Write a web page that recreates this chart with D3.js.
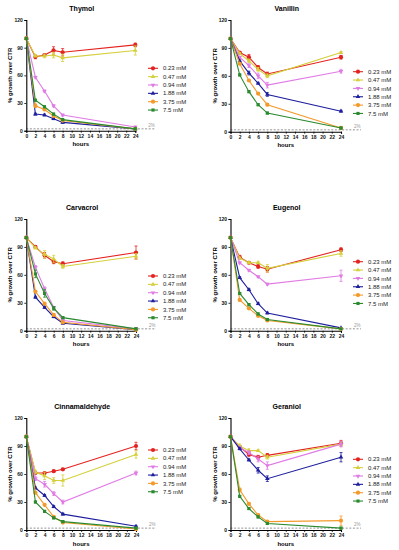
<!DOCTYPE html>
<html><head><meta charset="utf-8">
<script src="https://cdn.jsdelivr.net/npm/d3@7"></script>
<style>body{margin:0;background:#fff}svg{display:block}text{font-family:"Liberation Sans",Arial,sans-serif}</style>
</head><body><svg id="c" width="399" height="550"></svg>
<script>
const hours = [0, 2, 4, 6, 8, 24];
const concentrations = ["0.23 mM", "0.47 mM", "0.94 mM", "1.88 mM", "3.75 mM", "7.5 mM"];
const xTicks = [0, 2, 4, 6, 8, 10, 12, 14, 16, 18, 20, 22, 24];
const yTicks = [0, 30, 60, 90, 120];
const thresholdValue = 2;
const thresholdLabel = "2%";
const yLabel = "% growth over CTR";
const xLabel = "hours";

const thymolValues = [
  [100, 80, 82, 87, 85, 93],
  [100, 81, 81, 82, 79, 87],
  [100, 58, 43, 27, 17, 4],
  [100, 18, 17, 13, 9, 2],
  [100, 27, 23, 16, 11, 2],
  [100, 33, 26, 18, 12, 2]
];
const thymolErrors = [
  [0, 2, 1, 4, 4, 2], [0, 1, 2, 3, 4, 5], [0, 1, 1, 1, 1, 1],
  [0, 1, 1, 1, 1, 0], [0, 2, 1, 1, 1, 0], [0, 1, 1, 1, 1, 1]
];
const vanillinValues = [
  [100, 85, 80, 69, 62, 80],
  [100, 84, 76, 67, 60, 85],
  [100, 80, 71, 60, 50, 65],
  [100, 76, 63, 52, 40, 22],
  [100, 73, 55, 41, 29, 4],
  [100, 61, 43, 29, 20, 4]
];
const vanillinErrors = [
  [0, 1, 3, 2, 2, 2], [0, 1, 2, 2, 2, 1], [0, 1, 2, 3, 3, 2],
  [0, 1, 2, 1, 2, 1], [0, 1, 1, 1, 1, 1], [0, 1, 1, 1, 1, 1]
];
const carvacrolValues = [
  [100, 90, 81, 74, 72, 84],
  [100, 89, 82, 77, 69, 80],
  [100, 68, 45, 25, 11, 2],
  [100, 36, 25, 15, 8, 1],
  [100, 42, 29, 17, 9, 1],
  [100, 61, 40, 24, 14, 2]
];
const carvacrolErrors = [
  [0, 1, 3, 2, 2, 7], [0, 1, 4, 4, 2, 3], [0, 2, 2, 1, 1, 1],
  [0, 1, 1, 1, 1, 0], [0, 1, 1, 1, 1, 0], [0, 4, 4, 2, 1, 1]
];
const eugenolValues = [
  [100, 79, 73, 69, 66, 87],
  [100, 78, 73, 73, 67, 83],
  [100, 73, 65, 58, 50, 59],
  [100, 57, 44, 29, 19, 3],
  [100, 33, 24, 16, 11, 2],
  [100, 40, 28, 18, 12, 2]
];
const eugenolErrors = [
  [0, 2, 1, 2, 3, 2], [0, 1, 1, 1, 4, 3], [0, 1, 1, 1, 1, 6],
  [0, 1, 1, 1, 1, 0], [0, 1, 1, 1, 1, 0], [0, 1, 1, 1, 1, 0]
];
const cinnamaldehydeValues = [
  [100, 61, 61, 63, 65, 90],
  [100, 62, 58, 53, 53, 81],
  [100, 55, 49, 39, 30, 61],
  [100, 45, 37, 25, 17, 4],
  [100, 40, 27, 14, 8, 1],
  [100, 30, 20, 13, 9, 2]
];
const cinnamaldehydeErrors = [
  [0, 1, 1, 1, 1, 4], [0, 2, 4, 3, 6, 4], [0, 2, 3, 2, 2, 2],
  [0, 1, 1, 1, 1, 1], [0, 1, 1, 1, 1, 1], [0, 1, 1, 1, 1, 1]
];
const geraniolValues = [
  [100, 89, 81, 78, 80, 93],
  [100, 90, 85, 85, 78, 92],
  [100, 88, 83, 76, 69, 92],
  [100, 87, 75, 64, 55, 78],
  [100, 43, 28, 16, 9, 10],
  [100, 36, 23, 14, 7, 2]
];
const geraniolErrors = [
  [0, 1, 2, 2, 2, 3], [0, 2, 2, 1, 2, 2], [0, 1, 2, 3, 4, 3],
  [0, 1, 1, 3, 3, 5], [0, 2, 1, 1, 1, 5], [0, 1, 1, 1, 1, 1]
];

// styles
const colors = ["#e3231f", "#d5cf3a", "#e07be4", "#1e1e9e", "#f39a2a", "#2a8a2e"];
const symbols = [d3.symbolCircle, d3.symbolTriangle, d3.symbolTriangle, d3.symbolTriangle, d3.symbolCircle, d3.symbolSquare];
const symRot = [0, 0, 180, 0, 0, 0];
const symSize = [14, 9, 9, 9, 14, 10];

// layout
const panels = [
  {title: "Thymol", values: thymolValues, errors: thymolErrors, x0: 26.3, x1: 135.3, yT: 20, yB: 130.7, lx: 148, ly: 68.3},
  {title: "Vanillin", values: vanillinValues, errors: vanillinErrors, x0: 230.5, x1: 341, yT: 20, yB: 131.7, lx: 353, ly: 71.7},
  {title: "Carvacrol", values: carvacrolValues, errors: carvacrolErrors, x0: 26.3, x1: 136, yT: 219, yB: 330.7, lx: 148, ly: 276},
  {title: "Eugenol", values: eugenolValues, errors: eugenolErrors, x0: 230.5, x1: 341, yT: 219, yB: 330.7, lx: 353, ly: 261.7},
  {title: "Cinnamaldehyde", values: cinnamaldehydeValues, errors: cinnamaldehydeErrors, x0: 26.3, x1: 136, yT: 418, yB: 530, lx: 148, ly: 450},
  {title: "Geraniol", values: geraniolValues, errors: geraniolErrors, x0: 230.5, x1: 341, yT: 418, yB: 530, lx: 353, ly: 459.3}
];

const svg = d3.select("#c");

panels.forEach(p => {
  const g = svg.append("g");
  const x = d3.scaleLinear().domain([0, 24]).range([p.x0, p.x1]);
  const y = d3.scaleLinear().domain([0, 120]).range([p.yB, p.yT]);

  g.append("line").attr("x1", p.x0).attr("x2", p.x1 + 20)
    .attr("y1", y(thresholdValue)).attr("y2", y(thresholdValue))
    .attr("stroke", "#666").attr("stroke-width", 0.7).attr("stroke-dasharray", "2,1.6");
  g.append("text").attr("x", p.x1 + 13).attr("y", y(thresholdValue) - 2)
    .attr("font-size", 4.5).attr("fill", "#999").text(thresholdLabel);

  const xa = g.append("g").attr("transform", `translate(0,${p.yB})`)
    .call(d3.axisBottom(x).tickValues(xTicks).tickSize(2).tickPadding(1.5));
  const ya = g.append("g").attr("transform", `translate(${p.x0},0)`)
    .call(d3.axisLeft(y).tickValues(yTicks).tickSize(2).tickPadding(1.5));
  [xa, ya].forEach(a => {
    a.select(".domain").attr("stroke", "#000").attr("stroke-width", 1.1);
    a.selectAll(".tick line").attr("stroke", "#000").attr("stroke-width", 0.8);
    a.selectAll(".tick text").attr("font-size", 5).attr("font-weight", "bold")
      .attr("font-family", "Liberation Sans, Arial, sans-serif").attr("fill", "#111");
  });

  g.append("text").attr("x", (p.x0 + p.x1) / 2 + 1).attr("y", p.yT - 9)
    .attr("text-anchor", "middle").attr("font-size", 7).attr("font-weight", "bold").text(p.title);
  g.append("text").attr("x", (p.x0 + p.x1) / 2).attr("y", p.yB + 15.5)
    .attr("text-anchor", "middle").attr("font-size", 6).attr("font-weight", "bold").text(xLabel);
  g.append("text").attr("transform", `translate(${p.x0 - 14},${(p.yT + p.yB) / 2}) rotate(-90)`)
    .attr("text-anchor", "middle").attr("font-size", 6).attr("font-weight", "bold").text(yLabel);

  const line = d3.line().x((d, i) => x(hours[i])).y(d => y(d));

  p.values.forEach((vals, s) => {
    const sg = g.append("g");
    sg.append("path").attr("d", line(vals)).attr("fill", "none")
      .attr("stroke", colors[s]).attr("stroke-width", 1.1);
    vals.forEach((v, i) => {
      const e = p.errors[s][i];
      if (e > 0) {
        const cx = x(hours[i]);
        sg.append("line").attr("x1", cx).attr("x2", cx).attr("y1", y(v - e)).attr("y2", y(v + e))
          .attr("stroke", colors[s]).attr("stroke-width", 0.8);
        [v - e, v + e].forEach(t => sg.append("line").attr("x1", cx - 1.5).attr("x2", cx + 1.5)
          .attr("y1", y(t)).attr("y2", y(t)).attr("stroke", colors[s]).attr("stroke-width", 0.8));
      }
    });
    vals.forEach((v, i) => {
      sg.append("path").attr("d", d3.symbol(symbols[s], symSize[s])())
        .attr("transform", `translate(${x(hours[i])},${y(v)}) rotate(${symRot[s]})`)
        .attr("fill", colors[s]);
    });
  });

  concentrations.forEach((c, s) => {
    const ly = p.ly + s * 8.35;
    g.append("line").attr("x1", p.lx).attr("x2", p.lx + 10).attr("y1", ly).attr("y2", ly)
      .attr("stroke", colors[s]).attr("stroke-width", 1.1);
    g.append("path").attr("d", d3.symbol(symbols[s], symSize[s])())
      .attr("transform", `translate(${p.lx + 5},${ly}) rotate(${symRot[s]})`).attr("fill", colors[s]);
    g.append("text").attr("x", p.lx + 15).attr("y", ly + 2.1).attr("font-size", 6).attr("fill", "#222").text(c);
  });
});
</script></body></html>
